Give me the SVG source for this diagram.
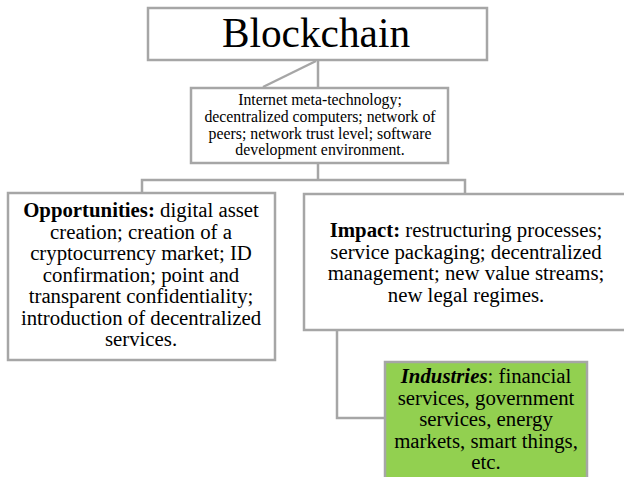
<svg xmlns="http://www.w3.org/2000/svg" width="624" height="477" viewBox="0 0 624 477">
<style>
.box{fill:#ffffff;stroke:#a6a6a6;stroke-width:2.5}
.green{fill:#92d050;stroke:#a6a6a6;stroke-width:2.5}
.con{fill:none;stroke:#a6a6a6;stroke-width:2.5}
text{font-family:"Liberation Serif","Times New Roman",serif;fill:#000;text-anchor:middle}
.s16{font-size:15.8px}
.s21{font-size:20.8px}
</style>
<rect width="624" height="477" fill="#ffffff"/>
<g id="connectors">
<line class="con" x1="318" y1="60" x2="318" y2="88"/>
<line class="con" x1="316" y1="61" x2="263" y2="87"/>
<line class="con" x1="318" y1="163" x2="318" y2="180"/>
<polyline class="con" points="142,193 142,180 465,180 465,194"/>
<polyline class="con" points="337,330 337,418 385,418"/>
</g>
<g id="blockchain">
<rect class="box" x="148" y="8" width="339" height="52"/>
<text x="316" y="47" style="font-size:41.3px">Blockchain</text>
</g>
<g id="meta">
<rect class="box" x="191" y="88" width="257" height="75"/>
<text class="s16" x="320"><tspan x="320" y="105">Internet meta-technology;</tspan><tspan x="320" y="122">decentralized computers; network of</tspan><tspan x="320" y="138.5">peers; network trust level; software</tspan><tspan x="320" y="155">development environment.</tspan></text>
</g>
<g id="opportunities">
<rect class="box" x="8" y="193" width="267" height="167"/>
<text class="s21" x="141"><tspan x="141" y="217"><tspan font-weight="bold">Opportunities:</tspan> digital asset</tspan><tspan x="141" y="238.5">creation; creation of a</tspan><tspan x="141" y="260">cryptocurrency market; ID</tspan><tspan x="141" y="281.5">confirmation; point and</tspan><tspan x="141" y="303">transparent confidentiality;</tspan><tspan x="141" y="324.5">introduction of decentralized</tspan><tspan x="141" y="346">services.</tspan></text>
</g>
<g id="impact">
<rect class="box" x="304" y="194" width="330" height="136"/>
<text class="s21" x="466"><tspan x="466" y="237"><tspan font-weight="bold">Impact:</tspan> restructuring processes;</tspan><tspan x="466" y="258.5">service packaging; decentralized</tspan><tspan x="466" y="280">management; new value streams;</tspan><tspan x="466" y="301.5">new legal regimes.</tspan></text>
</g>
<g id="industries">
<rect class="green" x="385" y="362" width="202" height="120"/>
<text class="s21" x="486"><tspan x="486" y="383"><tspan font-weight="bold" font-style="italic">Industries</tspan>: financial</tspan><tspan x="486" y="404.5">services, government</tspan><tspan x="486" y="426">services, energy</tspan><tspan x="486" y="447.5">markets, smart things,</tspan><tspan x="486" y="469">etc.</tspan></text>
</g>
</svg>
